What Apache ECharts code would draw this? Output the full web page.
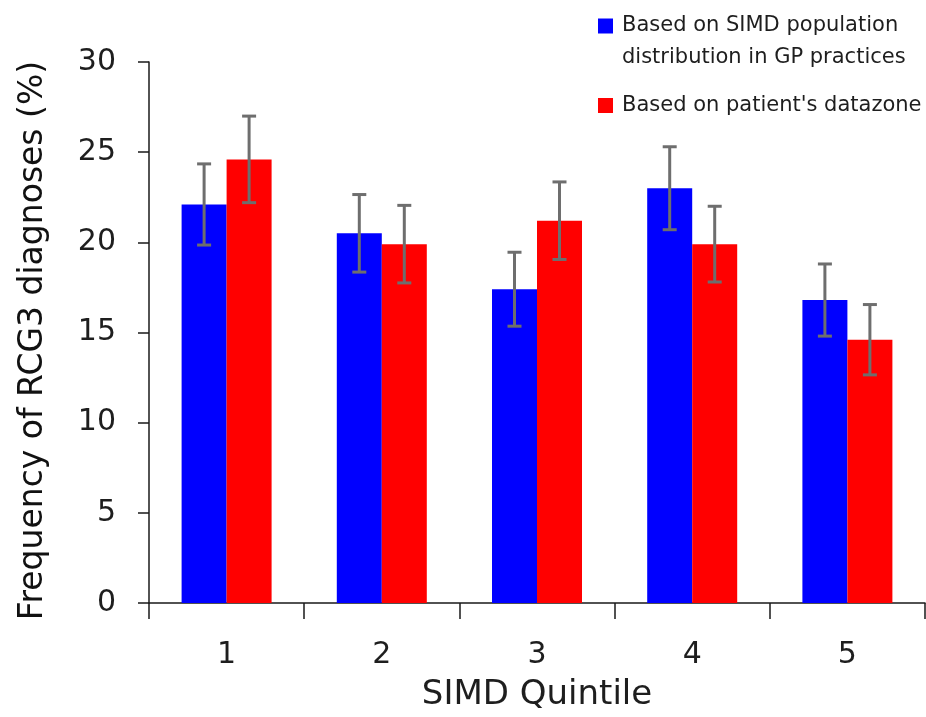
<!DOCTYPE html>
<html>
<head>
<meta charset="utf-8">
<script src="https://cdn.jsdelivr.net/npm/echarts@6/dist/echarts.min.js"></script>
<style>
  html, body { margin: 0; padding: 0; background: #fff; }
  #chart { width: 926px; height: 717px; }
</style>
</head>
<body>
<div id="chart"></div>
<script>
// SIMD quintiles and RCG3 diagnosis frequencies (%), with error half-widths
const quintiles = ['1', '2', '3', '4', '5'];
const practiceFreq = [22.1, 20.5, 17.4, 23.0, 16.8];
const practiceErr = [2.25, 2.15, 2.05, 2.3, 2.0];
const datazoneFreq = [24.6, 19.9, 21.2, 19.9, 14.6];
const datazoneErr = [2.4, 2.15, 2.15, 2.1, 1.95];

const seriesNames = [
  'Based on SIMD population\ndistribution in GP practices',
  "Based on patient's datazone"
];

const FONT = '"DejaVu Sans", "Open Sans", sans-serif';
const BAR_W = 45;
const AXIS_COLOR = '#1a1a1a';
const ERR_COLOR = '#6e6e6e';

function errorData(values, errs) {
  return values.map((v, i) => [i, v - errs[i], v + errs[i]]);
}

// whisker drawn at the centre of a bar shifted by `shift` px from the category centre
function errorRenderer(shift) {
  return function (params, api) {
    const x = api.value(0);
    const lo = api.coord([x, api.value(1)]);
    const hi = api.coord([x, api.value(2)]);
    const cx = lo[0] + shift;
    const cap = 7;
    const style = { stroke: ERR_COLOR, lineWidth: 3 };
    return {
      type: 'group',
      children: [
        { type: 'line', shape: { x1: cx, y1: hi[1], x2: cx, y2: lo[1] }, style },
        { type: 'line', shape: { x1: cx - cap, y1: hi[1], x2: cx + cap, y2: hi[1] }, style },
        { type: 'line', shape: { x1: cx - cap, y1: lo[1], x2: cx + cap, y2: lo[1] }, style }
      ]
    };
  };
}

const chart = echarts.init(document.getElementById('chart'));
chart.setOption({
  animation: false,
  backgroundColor: '#ffffff',
  grid: { left: 149, right: 1, top: 62, bottom: 110, containLabel: false },
  legend: {
    orient: 'vertical',
    left: 598,
    top: -22,
    padding: 0,
    itemWidth: 15,
    itemHeight: 15,
    itemGap: 15.5,
    icon: 'rect',
    selectedMode: false,
    // an empty leading line keeps the swatch level with the first text line
    formatter: function (name) {
      return name.indexOf('\n') >= 0 ? '\n' + name : name;
    },
    textStyle: {
      fontFamily: FONT,
      fontSize: 21,
      color: '#1e1e1e',
      lineHeight: 32,
      padding: [0, 0, 0, 4]
    },
    data: seriesNames
  },
  xAxis: {
    type: 'category',
    data: quintiles,
    name: 'SIMD Quintile',
    nameLocation: 'middle',
    nameGap: 75,
    nameTextStyle: { fontFamily: FONT, fontSize: 34, color: '#1e1e1e' },
    axisLine: { lineStyle: { color: AXIS_COLOR, width: 1.5 } },
    axisTick: { show: true, length: 16, lineStyle: { color: AXIS_COLOR, width: 1.5 } },
    axisLabel: { fontFamily: FONT, fontSize: 30, color: '#1e1e1e', margin: 37 }
  },
  yAxis: {
    type: 'value',
    min: 0,
    max: 30,
    interval: 5,
    name: 'Frequency of RCG3 diagnoses (%)',
    nameLocation: 'middle',
    nameGap: 99,
    nameTextStyle: { fontFamily: FONT, fontSize: 33, color: '#111', padding: [0, 16, 0, 0] },
    axisLine: { show: true, lineStyle: { color: AXIS_COLOR, width: 1.5 } },
    axisTick: { show: true, length: 11, lineStyle: { color: AXIS_COLOR, width: 1.5 } },
    axisLabel: { fontFamily: FONT, fontSize: 30, color: '#1e1e1e', margin: 33 },
    splitLine: { show: false }
  },
  series: [
    {
      name: seriesNames[0],
      type: 'bar',
      data: practiceFreq,
      barWidth: BAR_W,
      barGap: '0%',
      itemStyle: { color: '#0000ff' }
    },
    {
      name: seriesNames[1],
      type: 'bar',
      data: datazoneFreq,
      barWidth: BAR_W,
      barGap: '0%',
      itemStyle: { color: '#ff0000' }
    },
    {
      type: 'custom',
      name: 'practiceErr',
      data: errorData(practiceFreq, practiceErr),
      renderItem: errorRenderer(-BAR_W / 2),
      encode: { x: 0, y: [1, 2] },
      z: 5
    },
    {
      type: 'custom',
      name: 'datazoneErr',
      data: errorData(datazoneFreq, datazoneErr),
      renderItem: errorRenderer(BAR_W / 2),
      encode: { x: 0, y: [1, 2] },
      z: 5
    }
  ]
});
</script>
</body>
</html>
